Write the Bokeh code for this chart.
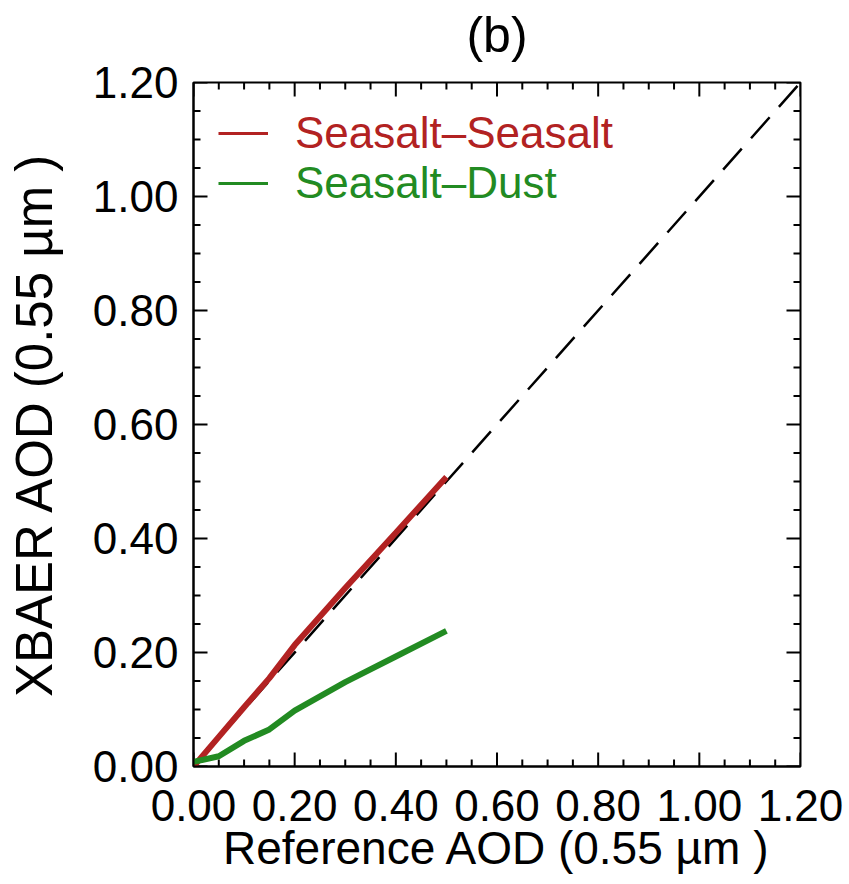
from bokeh.plotting import figure
from bokeh.models import (Range1d, FixedTicker, NumeralTickFormatter, Legend, LegendItem, LinearAxis)
from bokeh.embed import file_html
from bokeh.resources import INLINE

# ---- data ----
ref_aod = [0.0, 0.05, 0.10, 0.15, 0.20, 0.30, 0.40, 0.50]
seasalt_seasalt = [0.0, 0.052, 0.104, 0.155, 0.213, 0.313, 0.410, 0.508]
seasalt_dust = [0.008, 0.018, 0.045, 0.065, 0.098, 0.148, 0.193, 0.238]
one_to_one_x = [0.0, 1.2]
one_to_one_y = [0.0, 1.2]
major_ticks = [0.0, 0.2, 0.4, 0.6, 0.8, 1.0, 1.2]
minor_ticks = [0.05, 0.10, 0.15, 0.25, 0.30, 0.35, 0.45, 0.50, 0.55, 0.65, 0.70, 0.75,
               0.85, 0.90, 0.95, 1.05, 1.10, 1.15]
series_names = ["Seasalt\u2013Seasalt", "Seasalt\u2013Dust"]
series_colors = ["#B22222", "#228B22"]
title_text = "(b)"
x_label = "Reference AOD (0.55 \u00b5m )"
y_label = "XBAER AOD (0.55 \u00b5m )"

FONT = "Liberation Sans"
W, H = 846, 880
FL, FR, FT, FB = 193, 800, 82, 766          # frame edges in pixels
X0, X1 = 0.0, 1.2
Y0, Y1 = 0.0, 1.2

p = figure(width=W, height=H, output_backend="svg", toolbar_location=None,
           x_range=Range1d(X0, X1), y_range=Range1d(Y0, Y1),
           min_border_left=FL, min_border_right=W - FR, min_border_top=FT,
           min_border_bottom=H - FB,
           x_axis_label=x_label, y_axis_label=y_label)

bottom_ax = p.below[0]
left_ax = p.left[0]

p.grid.visible = False
p.outline_line_color = "black"
p.outline_line_width = 2
p.background_fill_color = "white"
p.border_fill_color = "white"

for ax in (bottom_ax, left_ax):
    ax.ticker = FixedTicker(ticks=major_ticks, minor_ticks=minor_ticks)
    ax.formatter = NumeralTickFormatter(format="0.00")
    ax.axis_line_color = "black"
    ax.axis_line_width = 2
    ax.major_tick_in = 0
    ax.major_tick_out = 0
    ax.minor_tick_in = 0
    ax.minor_tick_out = 0
    ax.major_label_text_font = FONT
    ax.major_label_text_font_size = "44px"
    ax.major_label_text_color = "black"
    ax.axis_label_text_font = FONT
    ax.axis_label_text_font_style = "normal"
    ax.axis_label_text_color = "black"

bottom_ax.axis_label_text_font_size = "46px"
left_ax.axis_label_text_font_size = "51px"
bottom_ax.major_label_standoff = 23
bottom_ax.axis_label_standoff = -2
left_ax.major_label_standoff = 15
left_ax.axis_label_standoff = 27

# title: the label of an otherwise empty top axis, so it can sit well above the frame
top = LinearAxis(ticker=FixedTicker(ticks=[]), axis_label=title_text)
top.axis_line_color = None
top.major_tick_line_color = None
top.minor_tick_line_color = None
top.major_tick_in = 0
top.major_tick_out = 0
top.minor_tick_in = 0
top.minor_tick_out = 0
top.major_label_standoff = 0
top.axis_label_standoff = 20
top.axis_label_text_font = FONT
top.axis_label_text_font_size = "50px"
top.axis_label_text_font_style = "normal"
top.axis_label_text_color = "black"
p.add_layout(top, "above")

# inward tick marks on all four sides, lengths given in pixels and converted to data units
px_x = (X1 - X0) / (FR - FL)
px_y = (Y1 - Y0) / (FB - FT)
MAJ, MIN = 14, 7


def ticks(vals, length):
    # bottom, top (vertical), left, right (horizontal)
    n = len(vals)
    x0 = list(vals) * 2 + [X0] * n + [X1] * n
    y0 = [Y0] * n + [Y1] * n + list(vals) * 2
    x1 = list(vals) * 2 + [X0 + length * px_x] * n + [X1 - length * px_x] * n
    y1 = [Y0 + length * px_y] * n + [Y1 - length * px_y] * n + list(vals) * 2
    return x0, y0, x1, y1


for vals, ln in ((major_ticks, MAJ), (minor_ticks, MIN)):
    a, b, c, d = ticks(vals, ln)
    p.segment(x0=a, y0=b, x1=c, y1=d, line_color="black", line_width=2)

# 1:1 dashed line
p.line(one_to_one_x, one_to_one_y, line_color="black", line_width=2.5, line_dash="28 14")

# data lines
p.line(ref_aod, seasalt_seasalt, line_color=series_colors[0], line_width=6)
p.line(ref_aod, seasalt_dust, line_color=series_colors[1], line_width=6)

# legend proxies (thinner sample lines, not drawn in the plot)
nan = float("nan")
proxy_r = p.line([nan, nan], [nan, nan], line_color=series_colors[0], line_width=3)
proxy_g = p.line([nan, nan], [nan, nan], line_color=series_colors[1], line_width=3)

legend_y = [608, 558]
for name, col, prox, ly in zip(series_names, series_colors, [proxy_r, proxy_g], legend_y):
    lg = Legend(items=[LegendItem(label=name, renderers=[prox])], location=(25, ly),
                label_text_font=FONT, label_text_font_size="44px", label_text_color=col,
                glyph_width=50, glyph_height=44, label_height=44, label_standoff=27,
                padding=0, margin=0, spacing=0, border_line_color=None,
                background_fill_alpha=0)
    p.add_layout(lg, "center")

open("out.html", "w").write(file_html(p, INLINE))
